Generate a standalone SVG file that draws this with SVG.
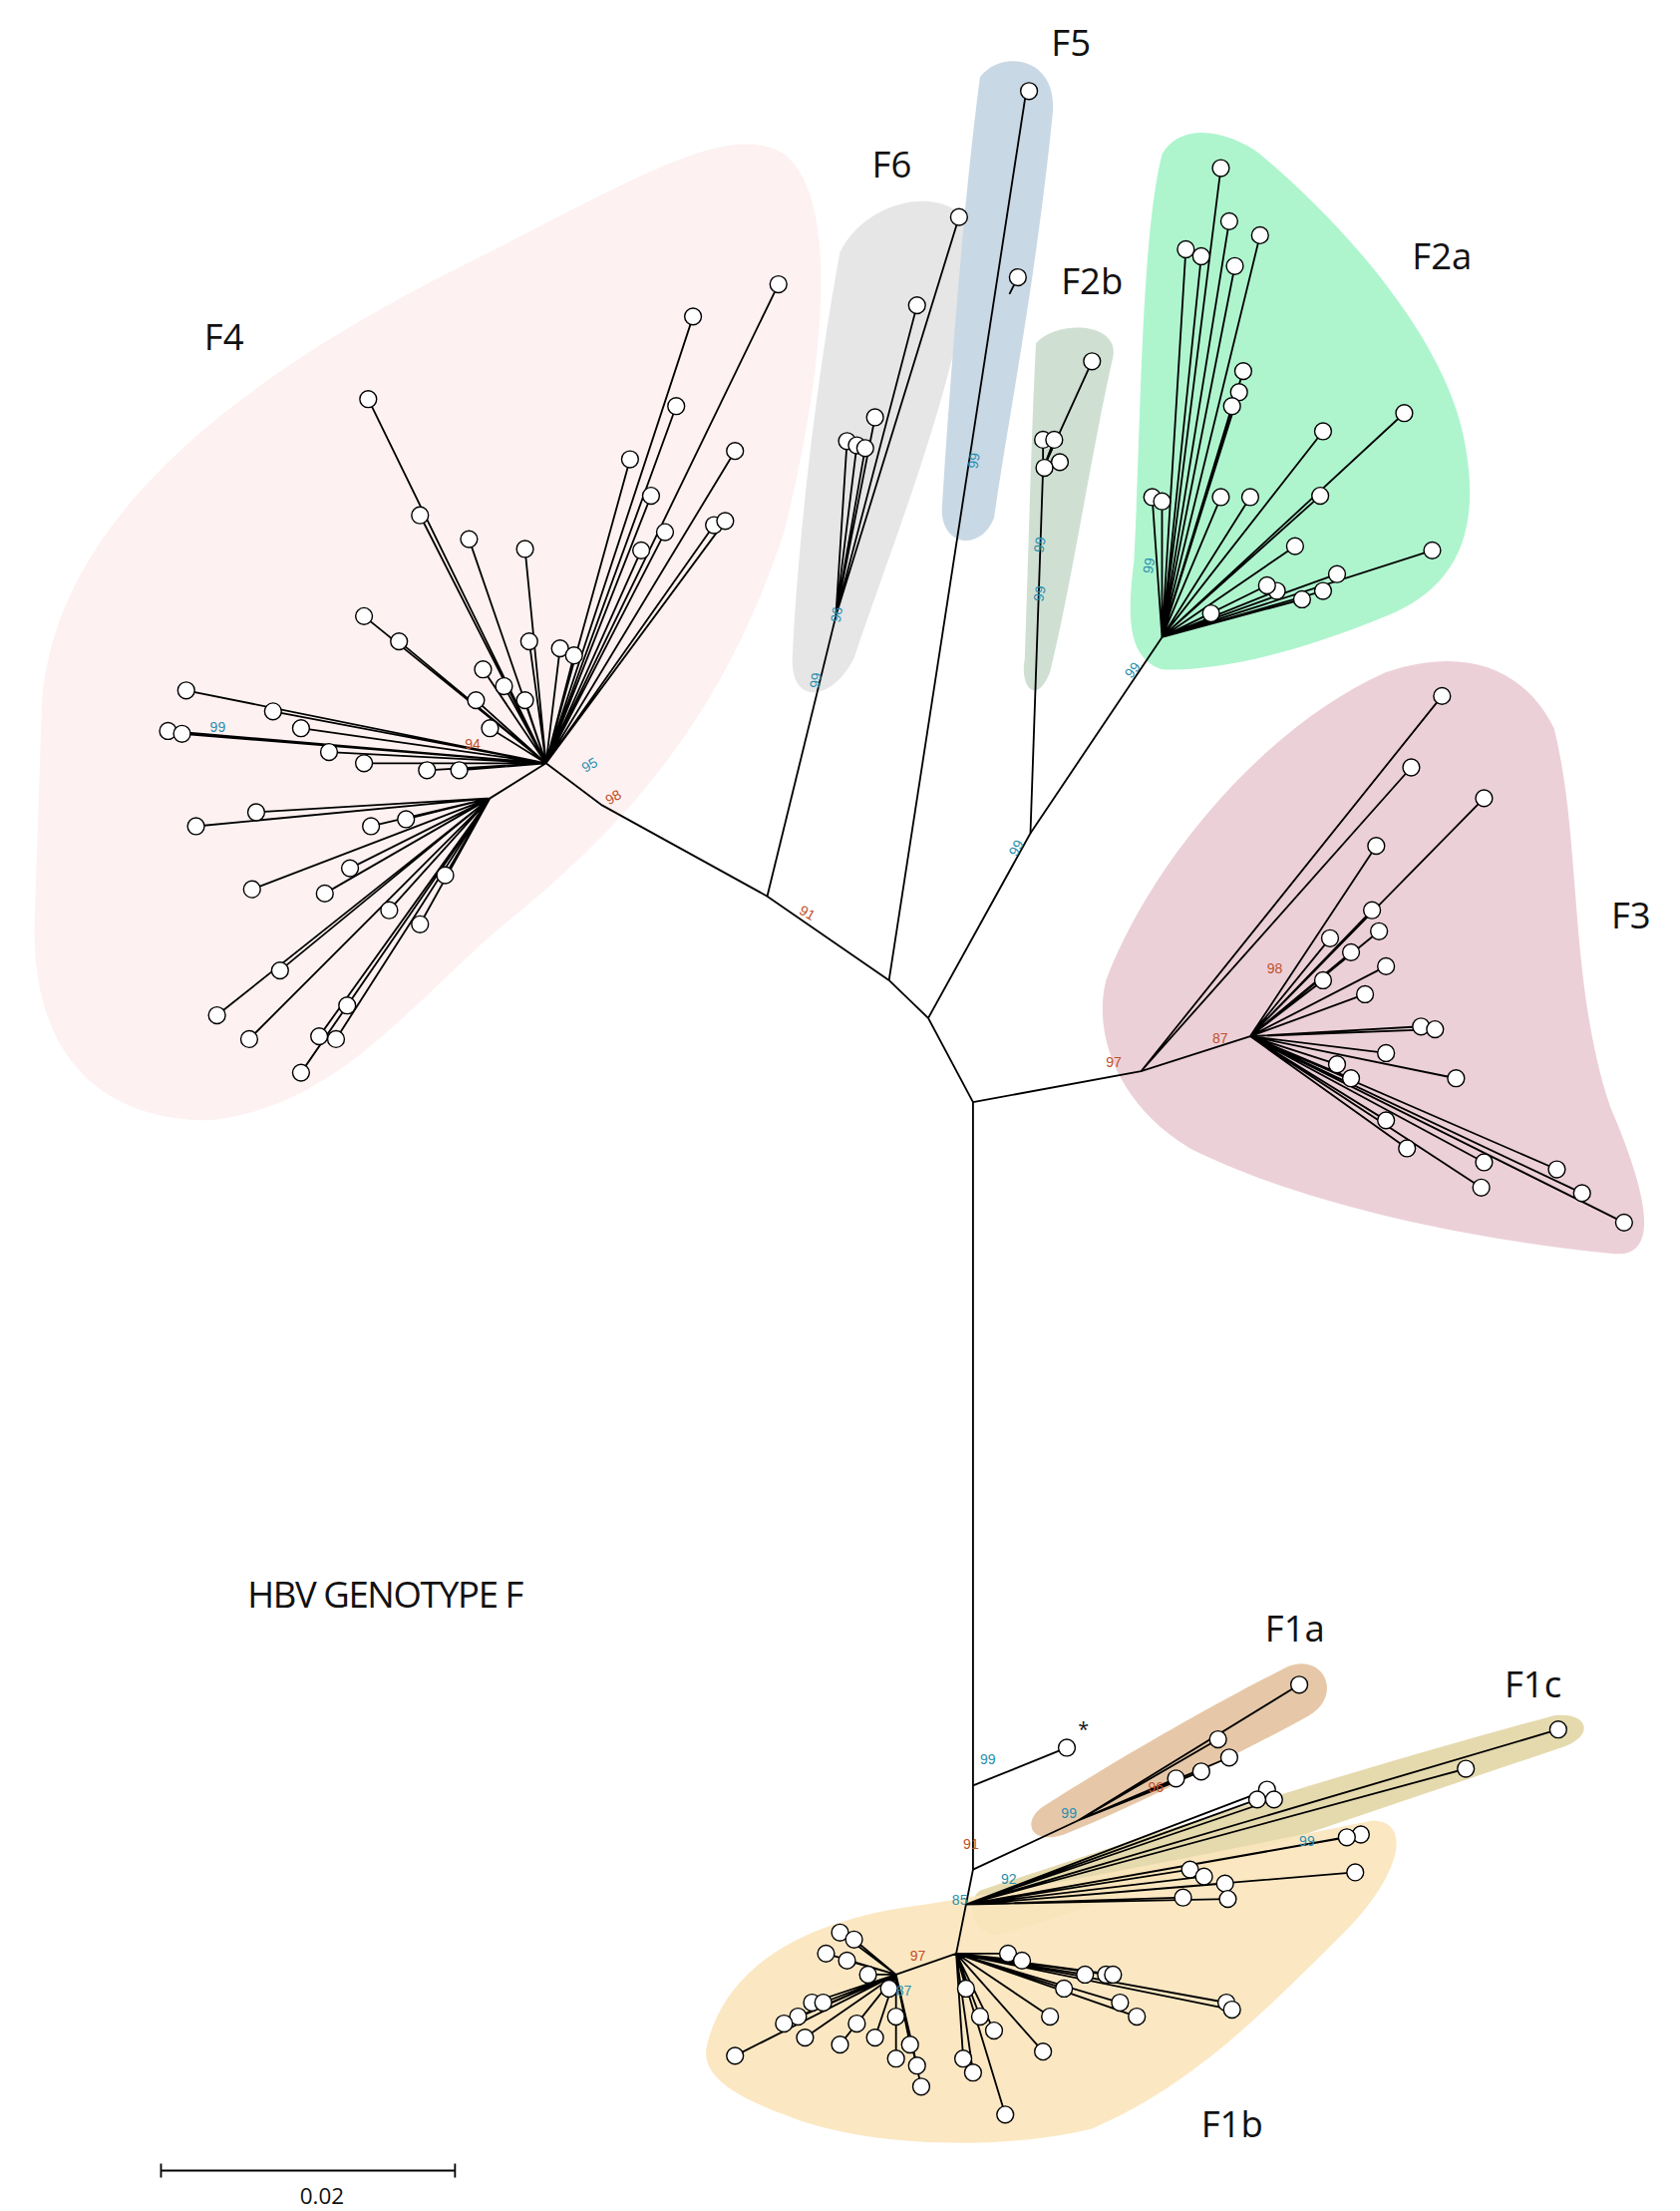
<svg xmlns="http://www.w3.org/2000/svg" width="1685" height="2217" viewBox="0 0 1685 2217">
<style>
.l{stroke:#000;stroke-width:1.3;fill:none}
.c{fill:#fff;stroke:#000;stroke-width:1}
.t{font-family:"Open Sans","Liberation Sans",sans-serif;fill:#111}
.b{font-family:"Liberation Sans",sans-serif;font-size:10px}
.bl{fill:#2a8fb0}.rd{fill:#c0502a}
</style>
<rect width="1685" height="2217" fill="#fff"/>
<g transform="scale(1.4042)">
<g id="hulls">
<path d="M30,500 C40,380 150,280 330,190 C450,130 520,85 560,110 C600,140 590,260 560,380 C520,500 460,580 360,660 C290,720 240,790 150,800 C60,800 20,740 25,650 Z" fill="#fdeeee" opacity="0.8"/>
<path d="M600,180 C620,140 680,130 695,165 C690,260 640,380 610,470 C595,500 565,505 566,470 C570,380 585,260 600,180 Z" fill="#e6e6e6"/>
<path d="M700,55 C715,35 755,40 752,80 C740,200 720,300 710,370 C700,395 670,390 673,360 C680,250 690,130 700,55 Z" fill="#c9d8e5"/>
<path d="M740,245 C755,228 800,230 795,255 C780,320 765,420 750,480 C740,505 728,490 732,470 C735,380 737,300 740,245 Z" fill="#cfe0d3"/>
<path d="M830,110 C845,85 880,95 900,110 C960,160 1030,240 1045,310 C1060,380 1040,420 990,440 C930,465 870,480 830,478 C805,470 805,440 810,400 C815,300 815,170 830,110 Z" fill="#aef5ce"/>
<path d="M790,700 C820,620 900,520 990,480 C1050,460 1090,480 1110,520 C1130,600 1120,700 1150,790 C1180,860 1185,900 1150,895 C1050,885 930,860 850,820 C800,790 780,740 790,700 Z" fill="#ecd0d8"/>
<path d="M745,1290 C800,1255 870,1215 920,1190 C945,1180 960,1210 935,1225 C880,1255 810,1290 760,1310 C735,1318 730,1300 745,1290 Z" fill="#e6c8a8"/>
<path d="M700,1350 C820,1310 980,1260 1110,1225 C1135,1222 1140,1240 1115,1248 C990,1290 860,1335 720,1380 C695,1388 688,1358 700,1350 Z" fill="#e2d6a5" opacity="0.9"/>
<path d="M505,1460 C520,1400 580,1370 660,1360 C760,1345 880,1320 980,1300 C1010,1300 1000,1340 960,1380 C900,1440 850,1490 780,1520 C720,1535 620,1535 560,1510 C520,1495 500,1480 505,1460 Z" fill="#fbe6bd" opacity="0.9"/>
</g>
<g id="backbone" class="l">
<path d="M695,787 L663,727 L635,700 L548,640 L430,575 L390,545"/>
<path d="M695,787 L815,765 L893,740"/>
<path d="M695,787 L695,1275 L695,1335 L690,1360 L683,1395"/>
<path d="M548,640 L597,440"/>
<path d="M635,700 L733,65"/>
<path d="M663,727 L736,595 L745,335"/>
<path d="M736,595 L830,455"/>
<path d="M695,1275 L762,1248"/>
<path d="M695,1335 L770,1300"/>
<path d="M115,1550 H325 M115,1545 V1555 M325,1545 V1555"/>
</g>
<g id="F4" class="l">
<path d="M390,545 L263,285 M390,545 L300,368 M390,545 L335,385 M390,545 L375,392 M390,545 L260,440 M390,545 L285,458 M390,545 L133,493 M390,545 L120,522 M390,545 L130,524 M390,545 L195,508 M390,545 L215,520 M390,545 L235,537 M390,545 L260,545 M390,545 L305,550 M390,545 L328,550 M350,570 L183,580 M350,570 L140,590 M350,570 L180,635 M350,570 L232,638 M350,570 L250,620 M350,570 L265,590 M350,570 L278,650 M350,570 L300,660 M350,570 L200,693 M350,570 L155,725 M350,570 L178,742 M350,570 L215,766 M350,570 L228,740 M350,570 L240,742 M350,570 L248,718 M350,570 L290,585 M350,570 L318,625 M390,545 L350,570 M390,545 L495,226 M390,545 L556,203 M390,545 L483,290 M390,545 L525,322 M390,545 L450,328 M390,545 L465,354 M390,545 L475,380 M390,545 L510,375 M390,545 L518,372 M390,545 L458,393 M390,545 L378,458 M390,545 L400,463 M390,545 L410,468 M390,545 L345,478 M390,545 L360,490 M390,545 L375,500 M390,545 L340,500 M390,545 L350,520"/>
</g>
<g id="F6" class="l"><path d="M597,440 L685,155 M597,440 L655,218 M597,440 L625,298 M597,440 L605,315 M597,440 L612,318 M597,440 L618,320"/></g>
<g id="F5" class="l"><path d="M721,210 L727,198"/></g>
<g id="F2b" class="l"><path d="M745,335 L780,258 M745,335 L745,314 M745,335 L753,314 M745,335 L757,330"/></g>
<g id="F2a" class="l"><path d="M830,455 L872,120 M830,455 L878,158 M830,455 L900,168 M830,455 L847,178 M830,455 L858,183 M830,455 L882,190 M830,455 L885,280 M830,455 L880,290 M830,455 L888,265 M830,455 L945,308 M830,455 L1003,295 M830,455 L943,354 M830,455 L1023,393 M830,455 L955,410 M830,455 L945,422 M830,455 L930,428 M830,455 L912,422 M830,455 L905,418 M830,455 L925,390 M830,455 L823,355 M830,455 L830,358 M830,455 L872,355 M830,455 L893,355 M830,455 L865,438"/></g>
<g id="F3" class="l"><path d="M815,765 L1030,497 M815,765 L1008,548 M893,740 L1060,570 M893,740 L983,604 M893,740 L980,650 M893,740 L985,665 M893,740 L990,690 M893,740 L950,670 M893,740 L965,680 M893,740 L1015,733 M893,740 L1025,735 M893,740 L990,752 M893,740 L1040,770 M893,740 L955,760 M893,740 L965,770 M893,740 L990,800 M893,740 L1005,820 M893,740 L1060,830 M893,740 L1058,848 M893,740 L1112,835 M893,740 L1130,852 M893,740 L1160,873 M893,740 L945,700 M893,740 L975,710"/></g>
<g id="F1a" class="l"><path d="M770,1300 L928,1203 M770,1300 L870,1242 M770,1300 L878,1255 M770,1300 L858,1265 M770,1300 L840,1270"/></g>
<g id="F1c" class="l"><path d="M690,1360 L1113,1235 M690,1360 L1047,1263 M690,1360 L905,1278 M690,1360 L910,1285 M690,1360 L898,1285 M690,1360 L972,1310 M690,1360 L962,1312 M690,1360 L968,1337 M690,1360 L875,1345 M690,1360 L850,1335 M690,1360 L860,1340 M690,1360 L845,1355 M690,1360 L877,1356"/></g>
<g id="F1b" class="l"><path d="M683,1395 L640,1410 M640,1410 L525,1468 M640,1410 L570,1440 M640,1410 L580,1430 M640,1410 L600,1380 M640,1410 L610,1385 M640,1410 L590,1395 M640,1410 L605,1400 M640,1410 L620,1410 M640,1410 L635,1420 M640,1410 L640,1440 M640,1410 L650,1460 M640,1410 L655,1475 M640,1410 L658,1490 M640,1410 L640,1470 M640,1410 L625,1455 M640,1410 L612,1445 M640,1410 L600,1460 M640,1410 L588,1430 M640,1410 L575,1455 M640,1410 L560,1445 M683,1395 L690,1420 M683,1395 L700,1440 M683,1395 L710,1450 M683,1395 L688,1470 M683,1395 L695,1480 M683,1395 L718,1510 M683,1395 L745,1465 M683,1395 L750,1440 M683,1395 L760,1420 M683,1395 L775,1410 M683,1395 L790,1410 M683,1395 L800,1430 M683,1395 L795,1410 M683,1395 L812,1440 M683,1395 L876,1430 M683,1395 L880,1435 M683,1395 L720,1395 M683,1395 L730,1400"/></g>
<g id="leaves" class="c">
<circle cx="263" cy="285" r="6"/><circle cx="300" cy="368" r="6"/><circle cx="335" cy="385" r="6"/><circle cx="375" cy="392" r="6"/><circle cx="260" cy="440" r="6"/><circle cx="285" cy="458" r="6"/><circle cx="133" cy="493" r="6"/><circle cx="120" cy="522" r="6"/><circle cx="130" cy="524" r="6"/><circle cx="195" cy="508" r="6"/><circle cx="215" cy="520" r="6"/><circle cx="235" cy="537" r="6"/><circle cx="260" cy="545" r="6"/><circle cx="305" cy="550" r="6"/><circle cx="328" cy="550" r="6"/><circle cx="183" cy="580" r="6"/><circle cx="140" cy="590" r="6"/><circle cx="180" cy="635" r="6"/><circle cx="232" cy="638" r="6"/><circle cx="250" cy="620" r="6"/><circle cx="265" cy="590" r="6"/><circle cx="278" cy="650" r="6"/><circle cx="300" cy="660" r="6"/><circle cx="200" cy="693" r="6"/><circle cx="155" cy="725" r="6"/><circle cx="178" cy="742" r="6"/><circle cx="215" cy="766" r="6"/><circle cx="228" cy="740" r="6"/><circle cx="240" cy="742" r="6"/><circle cx="248" cy="718" r="6"/><circle cx="290" cy="585" r="6"/><circle cx="318" cy="625" r="6"/><circle cx="495" cy="226" r="6"/><circle cx="556" cy="203" r="6"/><circle cx="483" cy="290" r="6"/><circle cx="525" cy="322" r="6"/><circle cx="450" cy="328" r="6"/><circle cx="465" cy="354" r="6"/><circle cx="475" cy="380" r="6"/><circle cx="510" cy="375" r="6"/><circle cx="518" cy="372" r="6"/><circle cx="458" cy="393" r="6"/><circle cx="378" cy="458" r="6"/><circle cx="400" cy="463" r="6"/><circle cx="410" cy="468" r="6"/><circle cx="345" cy="478" r="6"/><circle cx="360" cy="490" r="6"/><circle cx="375" cy="500" r="6"/><circle cx="340" cy="500" r="6"/><circle cx="350" cy="520" r="6"/>
<circle cx="685" cy="155" r="6"/><circle cx="655" cy="218" r="6"/><circle cx="625" cy="298" r="6"/><circle cx="605" cy="315" r="6"/><circle cx="612" cy="318" r="6"/><circle cx="618" cy="320" r="6"/>
<circle cx="735" cy="65" r="6"/><circle cx="727" cy="198" r="6"/>
<circle cx="780" cy="258" r="6"/><circle cx="745" cy="314" r="6"/><circle cx="753" cy="314" r="6"/><circle cx="757" cy="330" r="6"/><circle cx="746" cy="334" r="6"/>
<circle cx="872" cy="120" r="6"/><circle cx="878" cy="158" r="6"/><circle cx="900" cy="168" r="6"/><circle cx="847" cy="178" r="6"/><circle cx="858" cy="183" r="6"/><circle cx="882" cy="190" r="6"/><circle cx="885" cy="280" r="6"/><circle cx="880" cy="290" r="6"/><circle cx="888" cy="265" r="6"/><circle cx="945" cy="308" r="6"/><circle cx="1003" cy="295" r="6"/><circle cx="943" cy="354" r="6"/><circle cx="1023" cy="393" r="6"/><circle cx="955" cy="410" r="6"/><circle cx="945" cy="422" r="6"/><circle cx="930" cy="428" r="6"/><circle cx="912" cy="422" r="6"/><circle cx="905" cy="418" r="6"/><circle cx="925" cy="390" r="6"/><circle cx="823" cy="355" r="6"/><circle cx="830" cy="358" r="6"/><circle cx="872" cy="355" r="6"/><circle cx="893" cy="355" r="6"/><circle cx="865" cy="438" r="6"/>
<circle cx="1030" cy="497" r="6"/><circle cx="1008" cy="548" r="6"/><circle cx="1060" cy="570" r="6"/><circle cx="983" cy="604" r="6"/><circle cx="980" cy="650" r="6"/><circle cx="985" cy="665" r="6"/><circle cx="990" cy="690" r="6"/><circle cx="950" cy="670" r="6"/><circle cx="965" cy="680" r="6"/><circle cx="1015" cy="733" r="6"/><circle cx="1025" cy="735" r="6"/><circle cx="990" cy="752" r="6"/><circle cx="1040" cy="770" r="6"/><circle cx="955" cy="760" r="6"/><circle cx="965" cy="770" r="6"/><circle cx="990" cy="800" r="6"/><circle cx="1005" cy="820" r="6"/><circle cx="1060" cy="830" r="6"/><circle cx="1058" cy="848" r="6"/><circle cx="1112" cy="835" r="6"/><circle cx="1130" cy="852" r="6"/><circle cx="1160" cy="873" r="6"/><circle cx="945" cy="700" r="6"/><circle cx="975" cy="710" r="6"/>
<circle cx="762" cy="1248" r="6"/>
<circle cx="928" cy="1203" r="6"/><circle cx="870" cy="1242" r="6"/><circle cx="878" cy="1255" r="6"/><circle cx="858" cy="1265" r="6"/><circle cx="840" cy="1270" r="6"/>
<circle cx="1113" cy="1235" r="6"/><circle cx="1047" cy="1263" r="6"/><circle cx="905" cy="1278" r="6"/><circle cx="910" cy="1285" r="6"/><circle cx="898" cy="1285" r="6"/><circle cx="972" cy="1310" r="6"/><circle cx="962" cy="1312" r="6"/><circle cx="968" cy="1337" r="6"/><circle cx="875" cy="1345" r="6"/><circle cx="850" cy="1335" r="6"/><circle cx="860" cy="1340" r="6"/><circle cx="845" cy="1355" r="6"/><circle cx="877" cy="1356" r="6"/>
<circle cx="525" cy="1468" r="6"/><circle cx="570" cy="1440" r="6"/><circle cx="580" cy="1430" r="6"/><circle cx="600" cy="1380" r="6"/><circle cx="610" cy="1385" r="6"/><circle cx="590" cy="1395" r="6"/><circle cx="605" cy="1400" r="6"/><circle cx="620" cy="1410" r="6"/><circle cx="635" cy="1420" r="6"/><circle cx="640" cy="1440" r="6"/><circle cx="650" cy="1460" r="6"/><circle cx="655" cy="1475" r="6"/><circle cx="658" cy="1490" r="6"/><circle cx="640" cy="1470" r="6"/><circle cx="625" cy="1455" r="6"/><circle cx="612" cy="1445" r="6"/><circle cx="600" cy="1460" r="6"/><circle cx="588" cy="1430" r="6"/><circle cx="575" cy="1455" r="6"/><circle cx="560" cy="1445" r="6"/>
<circle cx="690" cy="1420" r="6"/><circle cx="700" cy="1440" r="6"/><circle cx="710" cy="1450" r="6"/><circle cx="688" cy="1470" r="6"/><circle cx="695" cy="1480" r="6"/><circle cx="718" cy="1510" r="6"/><circle cx="745" cy="1465" r="6"/><circle cx="750" cy="1440" r="6"/><circle cx="760" cy="1420" r="6"/><circle cx="775" cy="1410" r="6"/><circle cx="790" cy="1410" r="6"/><circle cx="800" cy="1430" r="6"/><circle cx="795" cy="1410" r="6"/><circle cx="812" cy="1440" r="6"/><circle cx="876" cy="1430" r="6"/><circle cx="880" cy="1435" r="6"/><circle cx="720" cy="1395" r="6"/><circle cx="730" cy="1400" r="6"/>
</g>
<g id="bootstrap" class="b">
<text x="150" y="523" class="bl">99</text>
<text x="418" y="552" class="bl" transform="rotate(-30 418 552)">95</text>
<text x="435" y="575" class="rd" transform="rotate(-30 435 575)">98</text>
<text x="570" y="652" class="rd" transform="rotate(30 570 652)">91</text>
<text x="332" y="535" class="rd">94</text>
<text x="585" y="492" class="bl" transform="rotate(-80 585 492)">99</text>
<text x="600" y="445" class="bl" transform="rotate(-80 600 445)">96</text>
<text x="698" y="335" class="bl" transform="rotate(-80 698 335)">99</text>
<text x="745" y="430" class="bl" transform="rotate(-80 745 430)">99</text>
<text x="745" y="395" class="bl" transform="rotate(-80 745 395)">99</text>
<text x="726" y="612" class="bl" transform="rotate(-60 726 612)">99</text>
<text x="823" y="410" class="bl" transform="rotate(-80 823 410)">99</text>
<text x="808" y="485" class="bl" transform="rotate(-50 808 485)">99</text>
<text x="790" y="762" class="rd">97</text>
<text x="866" y="745" class="rd">87</text>
<text x="905" y="695" class="rd">98</text>
<text x="700" y="1260" class="bl">99</text>
<text x="758" y="1298" class="bl">99</text>
<text x="820" y="1280" class="rd">96</text>
<text x="688" y="1320" class="rd">91</text>
<text x="680" y="1360" class="bl">85</text>
<text x="715" y="1345" class="bl">92</text>
<text x="928" y="1318" class="bl">99</text>
<text x="650" y="1400" class="rd">97</text>
<text x="640" y="1425" class="bl">87</text>
</g>
<g id="labels" class="t">
<text x="160" y="250" font-size="26" text-anchor="middle">F4</text>
<text x="637" y="127" font-size="26" text-anchor="middle">F6</text>
<text x="765" y="40" font-size="26" text-anchor="middle">F5</text>
<text x="780" y="210" font-size="26" text-anchor="middle">F2b</text>
<text x="1030" y="192" font-size="26" text-anchor="middle">F2a</text>
<text x="1165" y="663" font-size="26" text-anchor="middle">F3</text>
<text x="925" y="1172" font-size="26" text-anchor="middle">F1a</text>
<text x="1095" y="1212" font-size="26" text-anchor="middle">F1c</text>
<text x="880" y="1526" font-size="26" text-anchor="middle">F1b</text>
<text x="770" y="1240" font-size="14">*</text>
<text x="275" y="1148" font-size="26" text-anchor="middle" letter-spacing="-1">HBV GENOTYPE F</text>
<text x="230" y="1574" font-size="16" text-anchor="middle">0.02</text>
</g>
</g>
</svg>
